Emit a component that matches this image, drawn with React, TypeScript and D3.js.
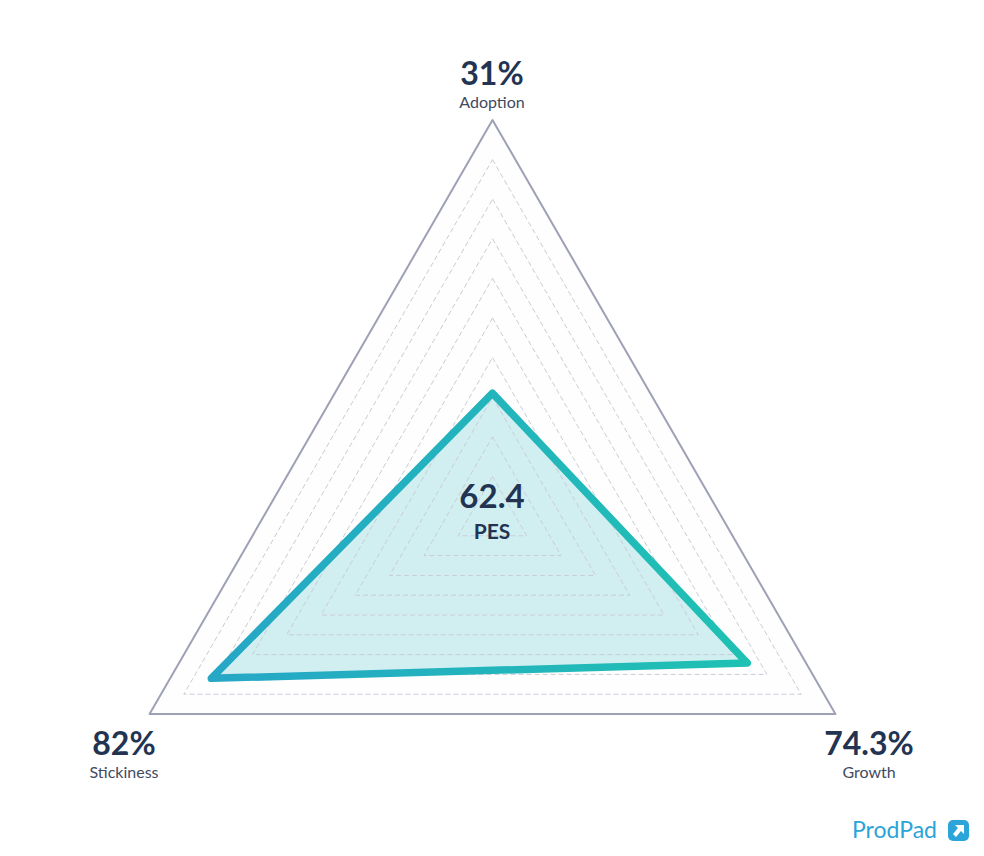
import React from "react";
import * as d3 from "d3";

const axes = ["Adoption", "Growth", "Stickiness"];
const values = [31, 74.3, 82];
const valueLabels = ["31%", "74.3%", "82%"];
const gridLevels = [10, 20, 30, 40, 50, 60, 70, 80, 90];
const scoreLabel = "62.4";
const scoreName = "PES";
const brand = "ProdPad";

const W = 984;
const H = 856;
const cx = 492.5;
const cy = 516;
const R = 396;
const angles = [-90, 30, 150].map((a) => (a * Math.PI) / 180);
const rScale = d3.scaleLinear().domain([0, 100]).range([0, R]);

const pt = (i: number, v: number): [number, number] => [
  cx + rScale(v) * Math.cos(angles[i]),
  cy + rScale(v) * Math.sin(angles[i]),
];

const line = d3.line().curve(d3.curveLinearClosed);

const labelPos = [
  { x: 492, y1: 85, y2: 107.5 },
  { x: 869, y1: 755, y2: 777.5 },
  { x: 124, y1: 755, y2: 777.5 },
];

export default function App() {
  const font = "Lato, 'Open Sans', sans-serif";
  const outer = line(axes.map((_, i) => pt(i, 100)));
  const data = line(values.map((v, i) => pt(i, v)));
  return (
    <svg width={W} height={H} style={{ display: "block", position: "absolute", left: 0, top: 0 }}>
      <defs>
        <linearGradient id="strokeGrad" x1="0" x2="1" y1="0" y2="0">
          <stop offset="0%" stopColor="#26a7c6" />
          <stop offset="100%" stopColor="#1fc1b3" />
        </linearGradient>
      </defs>
      <rect width={W} height={H} fill="#ffffff" />
      <path d={outer || ""} fill="#fefefe" stroke="#9ea1b4" strokeWidth={2} strokeLinejoin="round" />
      <path d={data || ""} fill="#c9ecef" fillOpacity={0.85} stroke="none" />
      {gridLevels.map((lv) => (
        <path
          key={lv}
          d={line(axes.map((_, i) => pt(i, lv))) || ""}
          fill="none"
          stroke="#c9ccd6"
          strokeWidth={1}
          strokeDasharray="5,3"
        />
      ))}
      <path d={data || ""} fill="none" stroke="url(#strokeGrad)" strokeWidth={7.5} strokeLinejoin="round" />
      {axes.map((a, i) => (
        <g key={a} textAnchor="middle" fontFamily={font}>
          <text x={labelPos[i].x} y={labelPos[i].y1} fontSize={32} fontWeight={700} fill="#233452">
            {valueLabels[i]}
          </text>
          <text x={labelPos[i].x} y={labelPos[i].y2} fontSize={16} fill="#3f4a62">
            {a}
          </text>
        </g>
      ))}
      <text x={492} y={508} textAnchor="middle" fontFamily={font} fontSize={33} fontWeight={700} fill="#233452">
        {scoreLabel}
      </text>
      <text x={492} y={539} textAnchor="middle" fontFamily={font} fontSize={21} fontWeight={700} fill="#233452">
        {scoreName}
      </text>
      <text x={852} y={838} fontFamily={font} fontSize={23} fontWeight={400} fill="#2ba4d9">
        {brand}
      </text>
      <g transform="translate(948,820)">
        <rect width={21} height={21} rx={5} fill="#2ba4d9" />
        <path d="M7 5 L16 5 L16 14 L13 11 L8 17 L5 14 L10 8 Z" fill="#ffffff" />
      </g>
    </svg>
  );
}
